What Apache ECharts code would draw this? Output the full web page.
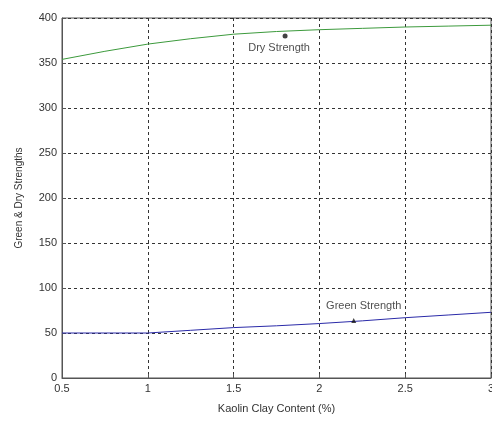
<!DOCTYPE html>
<html><head><meta charset="utf-8">
<script src="https://cdn.jsdelivr.net/npm/echarts@6/dist/echarts.min.js"></script>
<style>html,body{margin:0;padding:0;background:#fff}#c{width:492px;height:421px}</style>
</head><body><div id="c"></div>
<script>
const xValues = [0.5, 0.75, 1, 1.25, 1.5, 1.75, 2, 2.25, 2.5, 2.75, 3];
const dryStrength = [354, 363, 371, 377, 382, 385, 387, 388.5, 390, 391, 392];
const greenStrength = [50, 50, 50, 53, 56, 58, 60.5, 63.5, 67, 70, 73];
const annX = [1.8, 2.2];
const annY = [380, 64];
const annText = ['Dry Strength', 'Green Strength'];
const xTicks = ['0.5', '1', '1.5', '2', '2.5', '3'];
const yTicks = ['0', '50', '100', '150', '200', '250', '300', '350', '400'];

const font = 'Liberation Sans, Arial, sans-serif';
const chart = echarts.init(document.getElementById('c'));
chart.setOption({
  animation: false,
  grid: { left: 62, right: 1, top: 18, bottom: 43, show: true, borderColor: '#555', borderWidth: 1, outerBoundsMode: 'none', containLabel: false },
  xAxis: {
    type: 'value', min: 0.5, max: 3, interval: 0.5,
    name: 'Kaolin Clay Content (%)', nameLocation: 'middle', nameGap: 25,
    nameTextStyle: { color: '#333', fontSize: 11, fontFamily: font },
    axisLine: { show: true, lineStyle: { color: '#555' } },
    axisTick: { show: true, inside: true, length: 4, lineStyle: { color: '#555' } },
    axisLabel: { color: '#333', fontSize: 11, fontFamily: font, margin: 5, formatter: v => xTicks.includes(String(v)) ? String(v) : '' },
    splitLine: { show: true, lineStyle: { color: '#333', type: [3, 3], width: 1 } }
  },
  yAxis: {
    type: 'value', min: 0, max: 400, interval: 50,
    name: 'Green & Dry Strengths', nameLocation: 'middle', nameGap: 38,
    nameTextStyle: { color: '#333', fontSize: 10, fontFamily: font },
    axisLine: { show: true, lineStyle: { color: '#555' } },
    axisTick: { show: true, inside: true, length: 4, lineStyle: { color: '#555' } },
    axisLabel: { color: '#333', fontSize: 11, fontFamily: font, margin: 5, formatter: v => yTicks.includes(String(v)) ? String(v) : '' },
    splitLine: { show: true, lineStyle: { color: '#333', type: [3, 3], width: 1 } }
  },
  series: [
    { type: 'line', data: xValues.map((x, i) => [x, dryStrength[i]]), showSymbol: false,
      lineStyle: { color: '#3c9a3c', width: 1 }, z: 3 },
    { type: 'line', data: xValues.map((x, i) => [x, greenStrength[i]]), showSymbol: false,
      lineStyle: { color: '#2a2aa8', width: 1 }, z: 3 },
    { type: 'scatter', symbolSize: 5,
      itemStyle: { color: '#111' },
      data: annX.map((x, i) => ({
        value: [x, annY[i]],
        symbol: i === 0 ? 'circle' : 'triangle',
        label: {
          show: true, formatter: annText[i], color: '#222', fontSize: 11, fontFamily: font,
          position: i === 0 ? 'bottom' : 'top',
          offset: i === 0 ? [-6, -1] : [10, -1]
        }
      })), z: 5 }
  ]
});
</script></body></html>
